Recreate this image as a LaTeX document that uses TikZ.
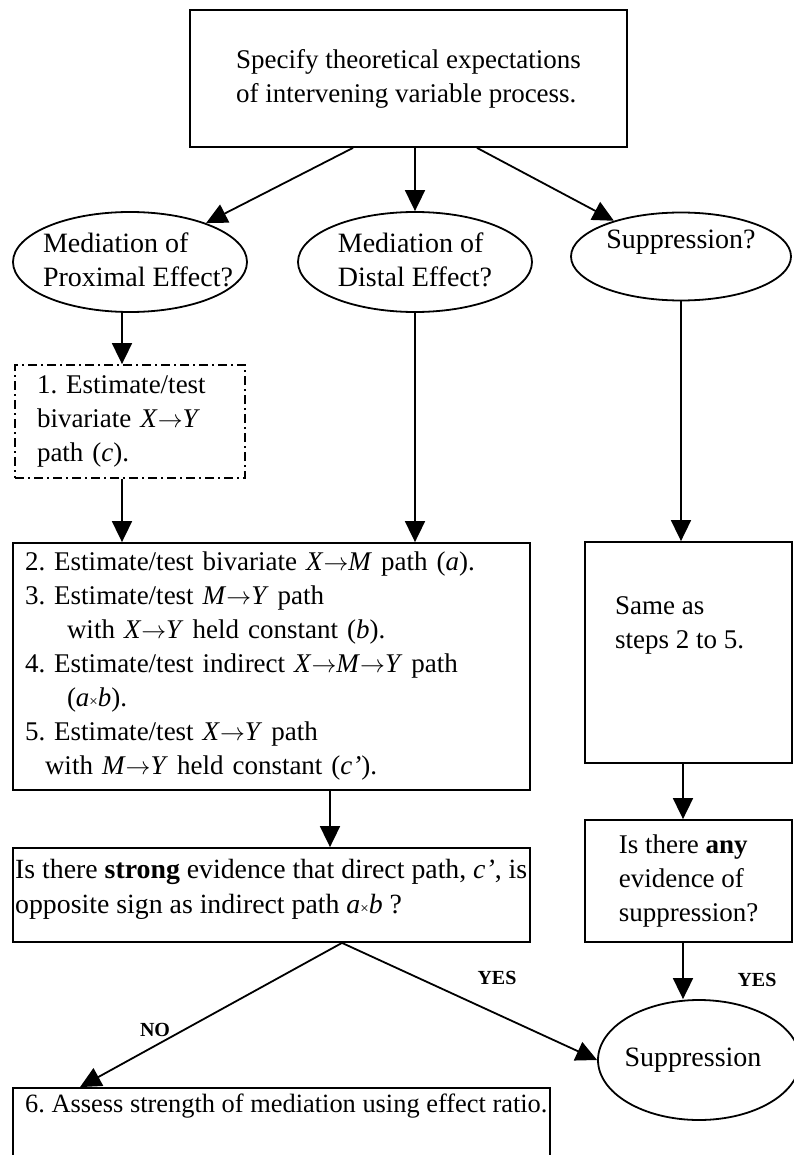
\documentclass[tikz,border=0pt]{standalone}
\usepackage{fontspec}
\setmainfont{Liberation Serif}
\usetikzlibrary{arrows.meta,calc,shapes.geometric}
\newcommand{\rarr}{\ensuremath{\rightarrow}}
\newcommand{\tms}{{\fontsize{15}{15}\selectfont ×}}
\frenchspacing
\begin{document}
\begin{tikzpicture}[x=1pt,y=-1pt,
  every node/.style={font=\fontsize{27}{34}\selectfont},
  box/.style={draw, line width=1.8pt, rectangle, inner sep=0pt},
  dashbox/.style={box, dash pattern=on 9pt off 4pt on 2pt off 4pt},
  oval/.style={draw, line width=1.8pt, ellipse, inner sep=0pt},
  ovaltxt/.style={align=left, inner sep=0pt, font=\fontsize{28}{34}\selectfont},
  arr/.style={line width=1.8pt, -{Triangle[length=21pt,width=20pt]}},
  lbl/.style={font=\fontsize{20}{22}\selectfont\bfseries},
  txt/.style={align=left, inner sep=0pt}]
\useasboundingbox (0,0) rectangle (794,1155);
\clip (0,0) rectangle (794,1155);

% top box
\node[box, minimum width=437pt, minimum height=137pt, align=left] (top) at (408.5,78.5)
  {Specify theoretical expectations\\of intervening variable process.};

% ellipses
\node[oval, minimum width=234pt, minimum height=100pt,
  label={[ovaltxt,xshift=8pt,yshift=2pt]center:Mediation of\\Proximal Effect?}] (prox) at (130,262) {};
\node[oval, minimum width=234pt, minimum height=100pt,
  label={[ovaltxt,yshift=2pt]center:Mediation of\\Distal Effect?}] (dist) at (415,262) {};
\node[oval, minimum width=220pt, minimum height=88pt,
  label={[ovaltxt,yshift=14pt]center:Suppression?}] (supq) at (681,256.5) {};

% step 1 dashed box
\node[dashbox, text width=186pt, inner xsep=22pt, minimum height=113pt, align=left] (step1) at (130,421.5)
  {1. Estimate/test\\bivariate \textit{X}\rarr\textit{Y}\\path (\textit{c}).};

% big box
\node[box, text width=493pt, inner xsep=12pt, minimum height=247pt, align=left] (big) at (271.5,666.5)
  {2. Estimate/test bivariate \textit{X}\rarr\textit{M} path (\textit{a}).\\
   3. Estimate/test \textit{M}\rarr\textit{Y} path\\
   \hspace*{42pt}with \textit{X}\rarr\textit{Y} held constant (\textit{b}).\\
   4. Estimate/test indirect \textit{X}\rarr\textit{M}\rarr\textit{Y} path\\
   \hspace*{42pt}(\textit{a}\tms\textit{b}).\\
   5. Estimate/test \textit{X}\rarr\textit{Y} path\\
   \hspace*{20pt}with \textit{M}\rarr\textit{Y} held constant (\textit{c’}).};

% right box
\node[box, minimum width=207pt, minimum height=221pt] (same) at (688.5,652.5) {};
\node[txt, anchor=north west] (sametxt) at (615,596) {Same as\\steps 2 to 5.};

% decision boxes
\node[box, minimum width=517pt, minimum height=94pt] (strongq) at (271.5,895) {};
\node[txt, font=\fontsize{27.8}{35}\selectfont, anchor=north west] (strongtxt) at (15,859)
  {Is there \textbf{strong} evidence that direct path, \textit{c’}, is\\opposite sign as indirect path \textit{a}\tms\textit{b} ?};
\node[box, minimum width=207pt, minimum height=122pt, align=left] (anyq) at (688.5,881)
  {Is there \textbf{any}\\evidence of\\suppression?};

% suppression ellipse
\node[oval, minimum width=202pt, minimum height=120pt,
  label={[ovaltxt,xshift=-6pt]center:Suppression}] (supp) at (699,1060) {};

% bottom box
\node[box, minimum width=537pt, minimum height=120pt] (final) at (281.5,1148) {};
\node[txt, font=\fontsize{26.4}{34}\selectfont, anchor=north west] (finaltxt) at (25,1094) {6. Assess strength of mediation using effect ratio.};

% labels
\node[lbl] (yes1) at (497,978) {YES};
\node[lbl] (yes2) at (757,980) {YES};
\node[lbl] (no) at (155,1030) {NO};

% connectors
\draw[arr] ([xshift=-55.5pt]top.south) -- (prox);
\draw[arr] (top.south -| dist.north) -- (dist.north);
\draw[arr] ([xshift=68.5pt]top.south) -- (supq);
\draw[arr] ([xshift=-8pt]prox.south) -- ([xshift=-8pt]prox.south |- step1.north);
\draw[arr] ([xshift=-8pt]step1.south) -- ([xshift=-8pt]step1.south |- big.north);
\draw[arr] (dist.south) -- (dist.south |- big.north);
\draw[arr] (supq.south) -- (supq.south |- same.north);
\draw[arr] ([xshift=-5.5pt]same.south) -- ([xshift=-5.5pt]same.south |- anyq.north);
\draw[arr] ([xshift=58.5pt]big.south) -- ([xshift=58.5pt]big.south |- strongq.north);
\draw[arr] ([xshift=-5.5pt]anyq.south) -- ([xshift=-5.5pt]anyq.south |- supp.north);
\coordinate (fork) at ([xshift=70.5pt]strongq.south);
\draw[arr] (fork) -- (supp.west);
\draw[arr] (fork) -- ([xshift=-201.5pt]final.north);
\end{tikzpicture}
\end{document}
